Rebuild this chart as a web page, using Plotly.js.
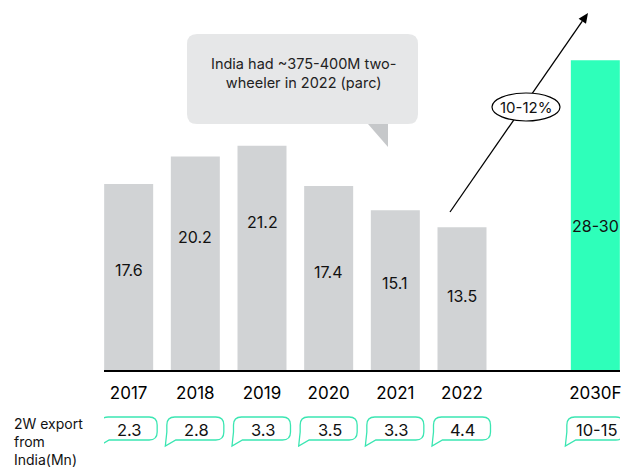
<!DOCTYPE html>
<html>
<head>
<meta charset="utf-8">
<script src="https://cdn.plot.ly/plotly-3.0.1.min.js"></script>
<style>html,body{margin:0;padding:0;background:#fff;}#chart{width:626px;height:468px;}</style>
</head>
<body>
<div id="chart"></div>
<script>
// ---- data ----
var years = ["2017", "2018", "2019", "2020", "2021", "2022", "2030F"];
var salesMn = [17.6, 20.2, 21.2, 17.4, 15.1, 13.5, 29.3];
var salesLabels = ["17.6", "20.2", "21.2", "17.4", "15.1", "13.5", "28-30"];
var exportLabels = ["2.3", "2.8", "3.3", "3.5", "3.3", "4.4", "10-15"];
var xPos = [0, 1, 2, 3, 4, 5, 7];
var cagrLabel = "10-12%";
var calloutText = "India had ~375-400M two-<br>wheeler in 2022 (parc)";

// ---- layout geometry ----
var W = 626, H = 468;
var M = {l: 104, r: 6, t: 20, b: 98};
var pw = W - M.l - M.r, ph = H - M.t - M.b;
var xr = [-0.37, 7.37];
var pxPerUnit = pw / (xr[1] - xr[0]);
function PX(px) { return (px - M.l) / pw; }          // absolute px -> paper x
function PY(py) { return (H - M.b - py) / ph; }      // absolute px -> paper y
function DX(dpx) { return dpx / pxPerUnit; }         // pixel offset -> data offset

var labelYs = [9.45, 12.6, 14.0, 9.3, 8.2, 7.0, 13.6];
var font = "Inter, 'Open Sans', sans-serif";

var shapes = [];
var annotations = [];
function note(o) { o.showarrow = false; if (!o.xanchor) o.xanchor = "center"; if (!o.yanchor) o.yanchor = "middle"; annotations.push(o); }

// bar value labels
for (var i = 0; i < years.length; i++) {
  note({x: xPos[i], y: labelYs[i], xref: "x", yref: "y", text: salesLabels[i],
    font: {family: font, size: 16, color: "#111"}});
}

// export speech boxes
var boxT = 417, boxB = 440, half = 28.5, r = 8;
for (var j = 0; j < xPos.length; j++) {
  var c = xPos[j];
  var L = c - DX(half), R = c + DX(half), rr = DX(r);
  var yT = PY(boxT), yB = PY(boxB), yr = (PY(boxT) - PY(boxT + r));
  var p = "M " + (L + rr) + "," + yT +
    " L " + (R - rr) + "," + yT +
    " Q " + R + "," + yT + " " + R + "," + (yT - yr) +
    " L " + R + "," + (yB + yr) +
    " Q " + R + "," + yB + " " + (R - rr) + "," + yB +
    " L " + (L + DX(9)) + "," + yB +
    " L " + (L - DX(1.5)) + "," + PY(boxB + 6) +
    " L " + L + "," + PY(boxB - 8) +
    " L " + L + "," + (yT - yr) +
    " Q " + L + "," + yT + " " + (L + rr) + "," + yT + " Z";
  shapes.push({type: "path", xref: "x", yref: "paper", path: p,
    line: {color: "#3BE6B2", width: 1.3}, fillcolor: "rgba(0,0,0,0)"});
  note({x: c + DX(1), y: PY(430), xref: "x", yref: "paper", text: exportLabels[j],
    font: {family: font, size: 16.5, color: "#111"}});
}

note({x: PX(12), y: PY(441), xref: "paper", yref: "paper", xanchor: "left",
  align: "left", text: "2W export<br>from<br>India(Mn)",
  font: {family: font, size: 14, color: "#111"}});

// callout
var cL = 187, cR = 418, cT = 34, cB = 124, cr = 10;
var crx = cr / pw, cry = cr / ph;
var cp = "M " + (PX(cL) + crx) + "," + PY(cT) +
  " L " + (PX(cR) - crx) + "," + PY(cT) +
  " Q " + PX(cR) + "," + PY(cT) + " " + PX(cR) + "," + (PY(cT) - cry) +
  " L " + PX(cR) + "," + (PY(cB) + cry) +
  " Q " + PX(cR) + "," + PY(cB) + " " + (PX(cR) - crx) + "," + PY(cB) +
  " L " + (PX(cL) + crx) + "," + PY(cB) +
  " Q " + PX(cL) + "," + PY(cB) + " " + PX(cL) + "," + (PY(cB) + cry) +
  " L " + PX(cL) + "," + (PY(cT) - cry) +
  " Q " + PX(cL) + "," + PY(cT) + " " + (PX(cL) + crx) + "," + PY(cT) + " Z";
shapes.push({type: "path", xref: "paper", yref: "paper", path: cp, line: {width: 0}, fillcolor: "#E6E7E8"});
shapes.push({type: "path", xref: "paper", yref: "paper",
  path: "M " + PX(368) + "," + PY(124) + " L " + PX(388) + "," + PY(124) + " L " + PX(388) + "," + PY(147) + " Z",
  line: {width: 0}, fillcolor: "#C6C8CA"});
note({x: PX(303), y: PY(73.5), xref: "paper", yref: "paper", text: calloutText, align: "center",
  font: {family: font, size: 14.5, color: "#222"}});

// growth arrow (line + head), then ellipse on top
var tip = [588, 13], tail = [450, 212];
var dxA = tip[0] - tail[0], dyA = tip[1] - tail[1];
var len = Math.sqrt(dxA * dxA + dyA * dyA), ux = dxA / len, uy = dyA / len;
var hl = 10, hw = 4.5;
var bx = tip[0] - ux * hl, by = tip[1] - uy * hl;
shapes.push({type: "line", xref: "paper", yref: "paper", x0: PX(tail[0]), y0: PY(tail[1]), x1: PX(bx), y1: PY(by),
  line: {color: "#000", width: 1.3}});
shapes.push({type: "path", xref: "paper", yref: "paper",
  path: "M " + PX(tip[0]) + "," + PY(tip[1]) +
    " L " + PX(bx - uy * hw) + "," + PY(by + ux * hw) +
    " L " + PX(bx + uy * hw) + "," + PY(by - ux * hw) + " Z",
  line: {width: 0}, fillcolor: "#000"});
shapes.push({type: "circle", xref: "paper", yref: "paper", x0: PX(492), x1: PX(560), y0: PY(93), y1: PY(121),
  line: {color: "#000", width: 1.2}, fillcolor: "#fff"});
note({x: PX(526), y: PY(107), xref: "paper", yref: "paper", text: cagrLabel,
  font: {family: font, size: 15, color: "#111"}});

var trace = {
  type: "bar", x: xPos, y: salesMn, width: 0.735,
  marker: {color: ["#D1D3D5", "#D1D3D5", "#D1D3D5", "#D1D3D5", "#D1D3D5", "#D1D3D5", "#2EFFBA"]},
  hoverinfo: "skip"
};

var layout = {
  width: W, height: H, margin: M, showlegend: false,
  paper_bgcolor: "#fff", plot_bgcolor: "#fff",
  font: {family: font},
  xaxis: {range: xr, tickvals: xPos, ticktext: years, showgrid: false, zeroline: false,
    showline: true, linecolor: "#000", linewidth: 1.5, ticks: "", ticklabelstandoff: 7,
    tickfont: {family: font, size: 17, color: "#000"}, fixedrange: true},
  yaxis: {range: [0, 33.1], visible: false, showgrid: false, zeroline: false, fixedrange: true},
  shapes: shapes, annotations: annotations
};

Plotly.newPlot("chart", [trace], layout, {displayModeBar: false, staticPlot: true});
</script>
</body>
</html>
